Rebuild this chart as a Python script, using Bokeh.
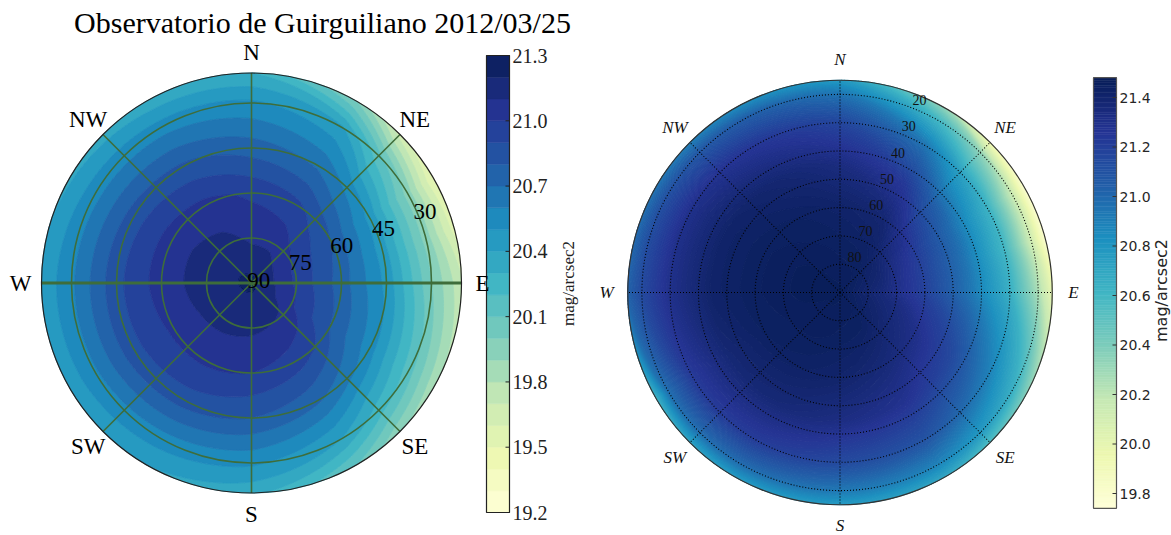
import numpy as np
from contourpy import contour_generator, FillType
from bokeh.plotting import figure
from bokeh.models import Range1d, ColumnDataSource
from bokeh.core.properties import value
from bokeh.embed import file_html
from bokeh.resources import INLINE

# ---------------- data ----------------
AZIMUTHS = [0, 30, 45, 60, 75, 90, 120, 135, 150, 180, 210, 240, 270, 300, 330]

# Left map (Observatorio de Guirguiliano 2012/03/25), mag/arcsec2
LEFT_ALTITUDES = [90, 75, 60, 45, 30, 20]
left_alt90 = [21.22] * 15
left_alt75 = [21.08, 21.07, 21.03, 21.00, 20.98, 20.98, 21.02, 21.08, 21.10, 21.12, 21.13, 21.14, 21.15, 21.15, 21.13]
left_alt60 = [20.98, 20.93, 20.86, 20.80, 20.77, 20.75, 20.80, 20.90, 20.95, 21.00, 21.02, 21.02, 21.05, 21.05, 21.03]
left_alt45 = [20.75, 20.68, 20.57, 20.47, 20.45, 20.47, 20.55, 20.63, 20.72, 20.80, 20.85, 20.87, 20.87, 20.85, 20.82]
left_alt30 = [20.52, 20.42, 20.13, 19.95, 19.95, 20.00, 20.15, 20.25, 20.40, 20.52, 20.55, 20.58, 20.58, 20.56, 20.55]
left_alt20 = [20.30, 20.00, 19.65, 19.48, 19.55, 19.72, 19.82, 19.92, 20.10, 20.33, 20.40, 20.42, 20.42, 20.38, 20.32]
LEFT_LEVELS = [19.2, 19.3, 19.4, 19.5, 19.6, 19.7, 19.8, 19.9, 20.0, 20.1, 20.2,
               20.3, 20.4, 20.5, 20.6, 20.7, 20.8, 20.9, 21.0, 21.1, 21.2, 21.3]
LEFT_TICKS = [19.2, 19.5, 19.8, 20.1, 20.4, 20.7, 21.0, 21.3]
LEFT_TICK_LABELS = ["19.2", "19.5", "19.8", "20.1", "20.4", "20.7", "21.0", "21.3"]
LEFT_RING_ALTS = [75, 60, 45, 30]
LEFT_RING_LABELS = ["90", "75", "60", "45", "30"]

# Right map, mag/arcsec2
RIGHT_ALTITUDES = [90, 75, 60, 45, 30, 20, 15]
right_alt90 = [21.47] * 15
right_alt75 = [21.45, 21.44, 21.42, 21.40, 21.38, 21.36, 21.40, 21.42, 21.44, 21.45, 21.46, 21.46, 21.47, 21.47, 21.46]
right_alt60 = [21.42, 21.39, 21.29, 21.22, 21.19, 21.19, 21.31, 21.34, 21.37, 21.41, 21.43, 21.44, 21.45, 21.45, 21.44]
right_alt45 = [21.34, 21.24, 21.06, 20.98, 20.96, 20.96, 21.16, 21.21, 21.28, 21.33, 21.37, 21.38, 21.42, 21.42, 21.39]
right_alt30 = [21.17, 20.95, 20.73, 20.63, 20.60, 20.65, 20.90, 21.00, 21.10, 21.15, 21.22, 21.23, 21.30, 21.30, 21.25]
right_alt20 = [20.95, 20.60, 20.33, 20.15, 20.12, 20.25, 20.65, 20.78, 20.88, 20.93, 20.98, 20.97, 21.15, 21.11, 21.05]
right_alt15 = [20.77, 20.32, 19.90, 19.78, 19.78, 19.98, 20.38, 20.55, 20.70, 20.77, 20.77, 20.62, 21.02, 20.95, 20.85]
RIGHT_VMIN, RIGHT_VMAX = 19.74, 21.48
RIGHT_TICKS = [19.8, 20.0, 20.2, 20.4, 20.6, 20.8, 21.0, 21.2, 21.4]
RIGHT_TICK_LABELS = ["19.8", "20.0", "20.2", "20.4", "20.6", "20.8", "21.0", "21.2", "21.4"]
RIGHT_RING_ALTS = [80, 70, 60, 50, 40, 30, 20]
RIGHT_RING_LABELS = ["80", "70", "60", "50", "40", "30", "20"]

DIRECTIONS = ["N", "NE", "E", "SE", "S", "SW", "W", "NW"]
DIR_AZ = [0, 45, 90, 135, 180, 225, 270, 315]

# ---------------- colour map (YlGnBu) ----------------
YLGNBU = ["#ffffd9", "#edf8b1", "#c7e9b4", "#7fcdbb", "#41b6c4",
          "#1d91c0", "#225ea8", "#253494", "#081d58"]
_RGB = [tuple(int(h[i:i + 2], 16) for i in (1, 3, 5)) for h in YLGNBU]


def cmap(t):
    t = min(max(t, 0.0), 1.0) * 8
    i = min(int(t), 7)
    f = t - i
    c = [round(_RGB[i][k] + (_RGB[i + 1][k] - _RGB[i][k]) * f) for k in range(3)]
    return "#%02x%02x%02x" % tuple(c)


# ---------------- geometry helpers ----------------
def densify(ring, step=1.0):
    out = [ring[0]]
    for p_, q_ in zip(ring[:-1], ring[1:]):
        n = int(np.ceil(abs(q_[0] - p_[0]) / step))
        if n > 1:
            t = np.linspace(0, 1, n + 1)[1:]
            out.extend(p_ + (q_ - p_) * t[:, None])
        else:
            out.append(q_)
    return np.array(out)


def polar_bands(alts, rows, levels, colors):
    az = np.array(AZIMUTHS + [360], dtype=float)
    r = 90.0 - np.array(alts, dtype=float)
    Z = np.array([list(row) + [row[0]] for row in rows], dtype=float)
    X, Y = np.meshgrid(az, r)
    cg = contour_generator(X, Y, Z, name="serial", fill_type=FillType.OuterOffset)
    xs, ys, cs = [], [], []
    for i in range(len(levels) - 1):
        pts_list, offs_list = cg.filled(levels[i], levels[i + 1])
        for pts, offs in zip(pts_list, offs_list):
            rx_, ry_ = [], []
            for a, b in zip(offs[:-1], offs[1:]):
                ring = densify(pts[a:b])
                th = np.radians(ring[:, 0])
                rr = ring[:, 1]
                rx_.append(list(rr * np.sin(th)))
                ry_.append(list(rr * np.cos(th)))
            xs.append([rx_])
            ys.append([ry_])
            cs.append(colors[i])
    return ColumnDataSource(dict(xs=xs, ys=ys, c=cs))


# ---------------- figure ----------------
W, H = 1171, 535
LCX, LCY, LS = 251.0, 282.5, 3.0          # left centre (px) and px per degree
RCX, RCY, RS = 839.5, 292.0, 2.83         # right centre (px) and px per degree

p = figure(width=W, height=H, output_backend="svg", toolbar_location=None,
           x_range=Range1d(-LCX / LS, (W - LCX) / LS),
           y_range=Range1d((LCY - H) / LS, LCY / LS),
           x_axis_location=None, y_axis_location=None, min_border=0)
p.outline_line_color = None
p.grid.visible = False
p.background_fill_color = "white"
p.border_fill_color = "white"

p.extra_x_ranges = {"rx": Range1d(-RCX / RS, (W - RCX) / RS)}
lpu = (512 - 55) / 2.1
rpu = (493 - 97) / 1.6
p.extra_y_ranges = {
    "ry": Range1d((RCY - H) / RS, RCY / RS),
    "lcb": Range1d(19.2 - (H - 512) / lpu, 21.3 + 55 / lpu),
    "rcb": Range1d(19.8 - (H - 493) / rpu, 21.4 + 97 / rpu),
}


def lx(px):
    return (px - LCX) / LS


def rxp(px):
    return (px - RCX) / RS


SERIF = value("Liberation Serif")
SANS = value("DejaVu Sans")
GREEN = "#3e6d3a"

# ---------- left polar map ----------
lmids = [(a + b) / 2 for a, b in zip(LEFT_LEVELS[:-1], LEFT_LEVELS[1:])]
lcols = [cmap((m - LEFT_LEVELS[0]) / (LEFT_LEVELS[-1] - LEFT_LEVELS[0])) for m in lmids]
lsrc = polar_bands(LEFT_ALTITUDES,
                   [left_alt90, left_alt75, left_alt60, left_alt45, left_alt30, left_alt20],
                   LEFT_LEVELS, lcols)
p.multi_polygons(xs="xs", ys="ys", fill_color="c", line_color="c", line_width=0.8, source=lsrc)

L_EDGE = 90 - LEFT_ALTITUDES[-1]
p.circle(x=[0] * 4, y=[0] * 4, radius=[90 - a for a in LEFT_RING_ALTS],
         fill_color=None, line_color=GREEN, line_width=1.6)
for az in DIR_AZ:
    t = np.radians(az)
    lw = 3.0 if az in (90, 270) else 1.6
    p.segment(x0=[0], y0=[0], x1=[L_EDGE * np.sin(t)], y1=[L_EDGE * np.cos(t)],
              line_color=GREEN, line_width=lw)
p.circle(x=[0], y=[0], radius=[L_EDGE], fill_color=None, line_color="#222222", line_width=1.2)

# left colour bar
LB0, LB1 = lx(486), lx(509)
p.quad(left=LB0, right=LB1, bottom=LEFT_LEVELS[:-1], top=LEFT_LEVELS[1:],
       fill_color=lcols, line_color=lcols, line_width=0.5, y_range_name="lcb")
p.quad(left=[LB0], right=[LB1], bottom=[LEFT_LEVELS[0]], top=[LEFT_LEVELS[-1]],
       fill_color=None, line_color="#222222", line_width=1.2, y_range_name="lcb")
p.segment(x0=[LB1 - 4 / LS] * len(LEFT_TICKS), y0=LEFT_TICKS, x1=[LB1] * len(LEFT_TICKS), y1=LEFT_TICKS,
          line_color="#222222", line_width=1, y_range_name="lcb")
p.text(x=[lx(512)] * len(LEFT_TICKS), y=LEFT_TICKS, text=LEFT_TICK_LABELS,
       text_font=SERIF, text_font_size="20px", text_align="left", text_baseline="middle",
       text_color="#222222", y_range_name="lcb")
p.text(x=[lx(568)], y=[(LCY - 283) / LS], text=["mag/arcsec2"], angle=np.pi / 2,
       text_font=SERIF, text_font_size="17px", text_align="center", text_baseline="middle",
       text_color="#222222")

# left texts (drawn after the colour bar so "E" stays visible)
ring_r = [0] + [90 - a for a in LEFT_RING_ALTS]
lab_t = np.radians(67.5)
p.text(x=[(r + 2.6) * np.sin(lab_t) for r in ring_r], y=[(r + 2.6) * np.cos(lab_t) for r in ring_r],
       text=LEFT_RING_LABELS, text_font=SERIF, text_font_size="23px",
       text_align="center", text_baseline="middle", text_color="black")
p.text(x=[1.1 * L_EDGE * np.sin(np.radians(a)) for a in DIR_AZ],
       y=[1.1 * L_EDGE * np.cos(np.radians(a)) for a in DIR_AZ],
       text=DIRECTIONS, text_font=SERIF, text_font_size="23px",
       text_align="center", text_baseline="middle", text_color="black")
p.text(x=[lx(322)], y=[(LCY - 22) / LS], text=["Observatorio de Guirguiliano 2012/03/25"],
       text_font=SERIF, text_font_size="30px", text_align="center",
       text_baseline="middle", text_color="black")

# ---------- right polar map ----------
rlevels = list(np.linspace(RIGHT_VMIN, RIGHT_VMAX, 130))
rmids = [(a + b) / 2 for a, b in zip(rlevels[:-1], rlevels[1:])]
rcols = [cmap((m - RIGHT_VMIN) / (RIGHT_VMAX - RIGHT_VMIN)) for m in rmids]
rsrc = polar_bands(RIGHT_ALTITUDES,
                   [right_alt90, right_alt75, right_alt60, right_alt45, right_alt30, right_alt20, right_alt15],
                   rlevels, rcols)
p.multi_polygons(xs="xs", ys="ys", fill_color="c", line_color="c", line_width=1.0, source=rsrc,
                 x_range_name="rx", y_range_name="ry")

R_EDGE = 90 - RIGHT_ALTITUDES[-1]
p.circle(x=[0] * 7, y=[0] * 7, radius=[90 - a for a in RIGHT_RING_ALTS],
         fill_color=None, line_color="black", line_width=1.1, line_dash="1 2",
         x_range_name="rx", y_range_name="ry")
for az in DIR_AZ:
    t = np.radians(az)
    p.segment(x0=[0], y0=[0], x1=[R_EDGE * np.sin(t)], y1=[R_EDGE * np.cos(t)],
              line_color="black", line_width=1.1, line_dash="1 2",
              x_range_name="rx", y_range_name="ry")
p.circle(x=[0], y=[0], radius=[R_EDGE], fill_color=None, line_color="#333333", line_width=1.2,
         x_range_name="rx", y_range_name="ry")

rt = np.radians(22.5)
rr = [90 - a + 3.5 for a in RIGHT_RING_ALTS]
p.text(x=[r * np.sin(rt) for r in rr], y=[r * np.cos(rt) for r in rr],
       text=RIGHT_RING_LABELS, text_font=SERIF, text_font_size="14px",
       text_align="center", text_baseline="middle", text_color="#111111",
       x_range_name="rx", y_range_name="ry")
p.text(x=[1.1 * R_EDGE * np.sin(np.radians(a)) for a in DIR_AZ],
       y=[1.1 * R_EDGE * np.cos(np.radians(a)) for a in DIR_AZ],
       text=DIRECTIONS, text_font=SERIF, text_font_size="17px", text_font_style="italic",
       text_align="center", text_baseline="middle", text_color="#111111",
       x_range_name="rx", y_range_name="ry")

# right colour bar
RB0, RB1 = rxp(1093), rxp(1116)
cb_levels = list(np.linspace(RIGHT_VMIN, RIGHT_VMAX, 175))
cb_cols = [cmap(((a + b) / 2 - RIGHT_VMIN) / (RIGHT_VMAX - RIGHT_VMIN))
           for a, b in zip(cb_levels[:-1], cb_levels[1:])]
p.quad(left=RB0, right=RB1, bottom=cb_levels[:-1], top=cb_levels[1:],
       fill_color=cb_cols, line_color=cb_cols, line_width=0.5,
       x_range_name="rx", y_range_name="rcb")
p.quad(left=[RB0], right=[RB1], bottom=[RIGHT_VMIN], top=[RIGHT_VMAX],
       fill_color=None, line_color="#555555", line_width=1.2,
       x_range_name="rx", y_range_name="rcb")
p.segment(x0=[RB1 - 4 / RS] * len(RIGHT_TICKS), y0=RIGHT_TICKS, x1=[RB1] * len(RIGHT_TICKS), y1=RIGHT_TICKS,
          line_color="#333333", line_width=1, x_range_name="rx", y_range_name="rcb")
p.text(x=[rxp(1119)] * len(RIGHT_TICKS), y=RIGHT_TICKS, text=RIGHT_TICK_LABELS,
       text_font=SANS, text_font_size="14px", text_align="left", text_baseline="middle",
       text_color="#262626", x_range_name="rx", y_range_name="rcb")
p.text(x=[rxp(1161)], y=[(RCY - 290) / RS], text=["mag/arcsec2"], angle=np.pi / 2,
       text_font=SANS, text_font_size="16px", text_align="center", text_baseline="middle",
       text_color="#262626", x_range_name="rx", y_range_name="ry")

open("out.html", "w").write(file_html(p, INLINE))
